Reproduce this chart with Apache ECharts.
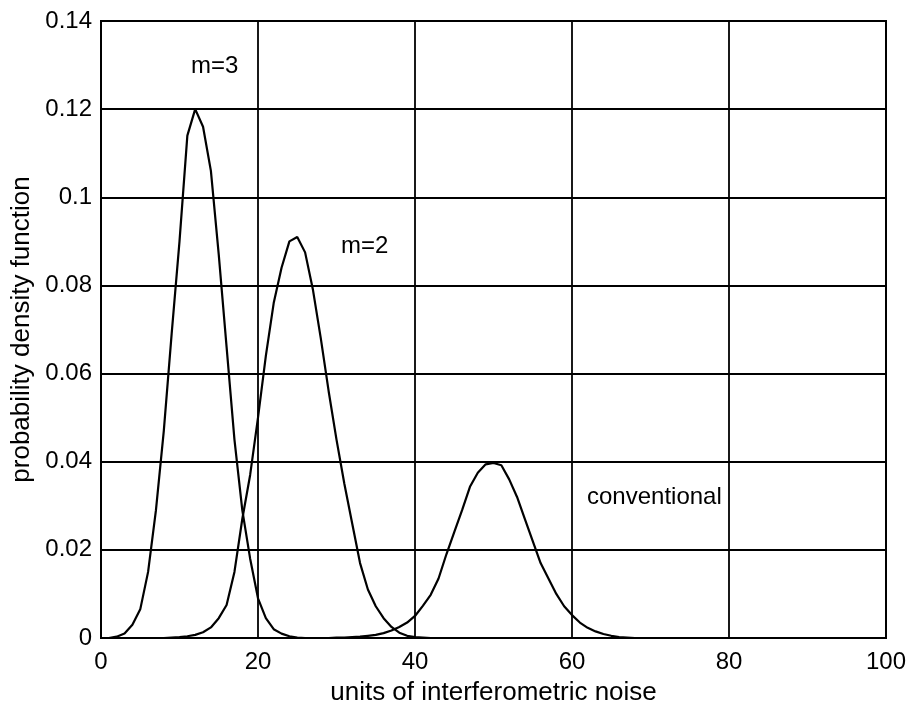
<!DOCTYPE html>
<html>
<head>
<meta charset="utf-8">
<title>probability density function</title>
<script src="https://cdn.jsdelivr.net/npm/echarts@6/dist/echarts.min.js"></script>
<style>
  html, body { margin: 0; padding: 0; background: #fff; }
  #main { width: 912px; height: 708px; }
</style>
</head>
<body>
<div id="main"></div>
<script>
// axis ticks
const xTicks = [0, 20, 40, 60, 80, 100]
const yTicks = [0, 0.02, 0.04, 0.06, 0.08, 0.1, 0.12, 0.14]

// curves, one value per unit of noise, starting at the given x
const m3Start = 0
const m3Values = [0, 0, 0.0003, 0.001, 0.003, 0.0065, 0.015, 0.029, 0.047, 0.069,
  0.09, 0.114, 0.12, 0.116, 0.106, 0.087, 0.066, 0.045, 0.029, 0.018,
  0.009, 0.0045, 0.002, 0.001, 0.0004, 0.0001, 0, 0]

const m2Start = 8
const m2Values = [0, 0.0001, 0.0002, 0.0004, 0.0007, 0.0013, 0.0024, 0.0045, 0.0075, 0.015,
  0.027, 0.037, 0.05, 0.064, 0.076, 0.084, 0.09, 0.091, 0.0875, 0.079,
  0.068, 0.056, 0.045, 0.035, 0.026, 0.017, 0.011, 0.0072, 0.0045, 0.0025,
  0.0012, 0.0005, 0.0002, 0.0001, 0]

const convStart = 28
const convValues = [0, 0, 0.0001, 0.0001, 0.0002, 0.0003, 0.0005, 0.0007, 0.0011, 0.0017,
  0.0025, 0.0035, 0.005, 0.0073, 0.0098, 0.0135, 0.019, 0.024, 0.029, 0.0343,
  0.0375, 0.0394, 0.0397, 0.0392, 0.036, 0.032, 0.027, 0.022, 0.017, 0.0135,
  0.01, 0.0072, 0.0052, 0.0035, 0.0023, 0.0015, 0.0009, 0.0005, 0.0002, 0.0001,
  0, 0, 0]

function toPairs (start, values) {
  return values.map((v, i) => [start + i, v])
}

const font = '"Liberation Sans", Arial, sans-serif'

function curve (name, start, values) {
  return {
    name: name,
    type: 'line',
    data: toPairs(start, values),
    symbol: 'none',
    smooth: false,
    lineStyle: { color: '#000', width: 2.2 }
  }
}

const myChart = echarts.init(document.getElementById('main'), null, { renderer: 'canvas' })

myChart.setOption({
  backgroundColor: '#fff',
  animation: false,
  grid: {
    left: 101,
    right: 26,
    top: 21,
    bottom: 70,
    outerBoundsMode: 'none',
    show: true,
    borderColor: '#000',
    borderWidth: 2
  },
  xAxis: {
    type: 'value',
    min: xTicks[0],
    max: xTicks[xTicks.length - 1],
    interval: 20,
    name: 'units of interferometric noise',
    nameLocation: 'middle',
    nameGap: 42,
    nameTextStyle: { color: '#000', fontSize: 26, fontFamily: font },
    axisLine: { show: true, lineStyle: { color: '#000', width: 2 } },
    axisTick: { show: false },
    axisLabel: { color: '#000', fontSize: 24, fontFamily: font, margin: 12 },
    splitLine: { show: true, lineStyle: { color: '#000', width: 1.8 } }
  },
  yAxis: {
    type: 'value',
    min: yTicks[0],
    max: yTicks[yTicks.length - 1],
    interval: 0.02,
    name: 'probability density function',
    nameLocation: 'middle',
    nameGap: 66,
    nameTextStyle: { color: '#000', fontSize: 26, fontFamily: font },
    axisLine: { show: true, lineStyle: { color: '#000', width: 2 } },
    axisTick: { show: false },
    axisLabel: {
      color: '#000',
      fontSize: 24,
      fontFamily: font,
      margin: 9,
      formatter: (v) => String(Math.round(v * 100) / 100)
    },
    splitLine: { show: true, lineStyle: { color: '#000', width: 1.8 } }
  },
  // curve names written next to the peaks
  graphic: [
    { type: 'text', left: 191, top: 54, style: { text: 'm=3', fill: '#000', font: '24px ' + font } },
    { type: 'text', left: 341, top: 234, style: { text: 'm=2', fill: '#000', font: '24px ' + font } },
    { type: 'text', left: 587, top: 485, style: { text: 'conventional', fill: '#000', font: '24px ' + font } }
  ],
  series: [
    curve('m=3', m3Start, m3Values),
    curve('m=2', m2Start, m2Values),
    curve('conventional', convStart, convValues)
  ]
})
</script>
</body>
</html>
